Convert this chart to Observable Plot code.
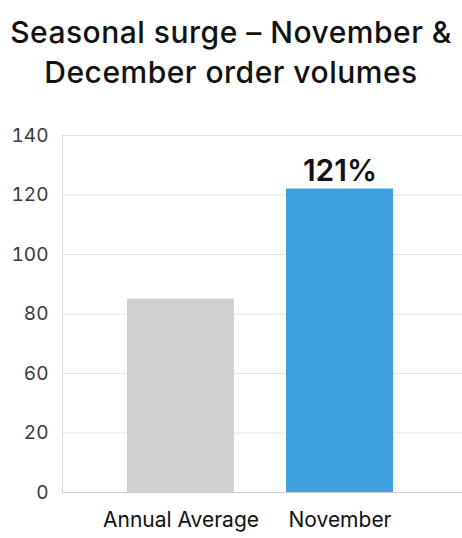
<!DOCTYPE html>
<html>
<head>
<meta charset="utf-8">
<script src="https://cdn.jsdelivr.net/npm/d3@7"></script>
<script src="https://cdn.jsdelivr.net/npm/@observablehq/plot@0.6"></script>
<style>
  body { margin: 0; background: #fff; }
  #chart { width: 462px; height: 538px; }
  .title {
    font-family: Inter, "Noto Sans", sans-serif;
    font-weight: 500;
    font-size: 30px;
    letter-spacing: 0.5px;
    line-height: 40px;
    color: #111;
    text-align: center;
    height: 100px;
    padding-top: 12px;
    box-sizing: border-box;
    white-space: nowrap;
  }
</style>
</head>
<body>
<div id="chart">
  <div class="title">Seasonal surge – November &amp;<br>December order volumes</div>
  <div id="plot"></div>
</div>
<script>
const categories = ["Annual Average", "November"];
const values = [85, 122];
const valueLabels = ["", "121%"];
const barColors = ["#d0d0d0", "#3d9fdb"];
// the axis labels skip 40, but are spaced evenly
const yTicks = [0, 20, 60, 80, 100, 120, 140];

// maps a value to its position in tick steps (piecewise between the ticks)
function tickStep(v) {
    for (let i = 1; i < yTicks.length; i++) {
        if (v <= yTicks[i] || i === yTicks.length - 1) {
            const a = yTicks[i - 1], b = yTicks[i];
            return i - 1 + (v - a) / (b - a);
        }
    }
}

function drawChart() {
    const data = categories.map((c, i) => ({
        category: c,
        value: values[i],
        label: valueLabels[i],
        color: barColors[i]
    }));

    const chart = Plot.plot({
        width: 462,
        height: 438,
        marginTop: 35,
        marginBottom: 46,
        marginLeft: 62,
        marginRight: 0,
        style: { fontFamily: "Inter, 'Noto Sans', sans-serif", background: "#fff" },
        x: {
            domain: categories,
            paddingInner: 0.327,
            paddingOuter: 0.42,
            align: 0.487,
            label: null
        },
        y: {
            transform: tickStep,
            domain: [0, yTicks.length - 1],
            label: null
        },
        marks: [
            Plot.gridY(yTicks, { stroke: "#e2e2e2", strokeOpacity: 1 }),
            Plot.barY(data, {
                x: "category",
                y1: 0,
                y2: "value",
                fill: "color"
            }),
            Plot.text(data, {
                x: "category",
                y: "value",
                text: "label",
                lineAnchor: "bottom",
                dy: -8,
                fontSize: 30,
                fontWeight: 600,
                fill: "#111"
            }),
            Plot.ruleY([0], { stroke: "#cccccc" }),
            Plot.frame({ anchor: "left", stroke: "#d4d4d4" }),
            Plot.axisY(yTicks, {
                tickSize: 0,
                tickPadding: 14,
                fontSize: 19,
                fill: "#3a3a3a",
                tickFormat: d => String(d)
            }),
            Plot.axisX({
                tickSize: 0,
                tickPadding: 20,
                fontSize: 21,
                fill: "#111"
            })
        ]
    });

    document.getElementById("plot").appendChild(chart);
}

window.onload = function() {
    drawChart();
};
</script>
</body>
</html>
